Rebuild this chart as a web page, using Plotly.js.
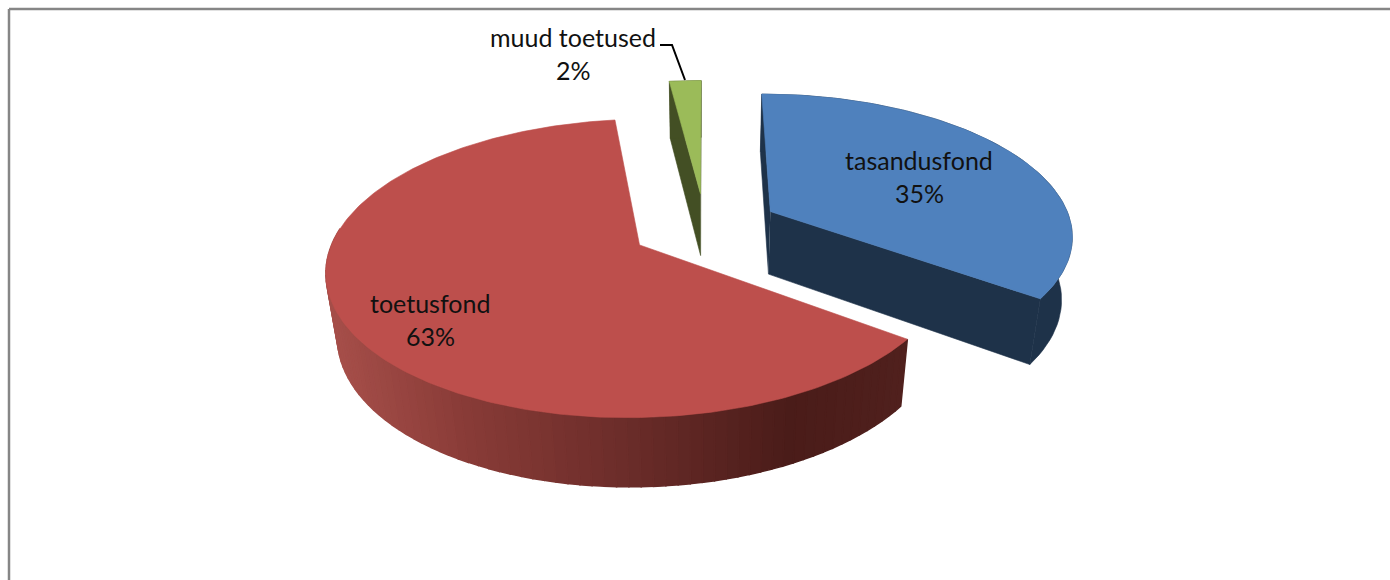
<!DOCTYPE html>
<html><head><meta charset="utf-8">
<script src="https://cdn.plot.ly/plotly-3.0.1.min.js"></script>
<style>html,body{margin:0;padding:0;background:#fff}</style></head>
<body><div id="chart" style="width:1390px;height:580px"></div>
<script>
const categories = ["tasandusfond", "toetusfond", "muud toetused"];
const values = [35, 63, 2];
const percentLabels = ["35%", "63%", "2%"];
const topColors = ["#4f81bd", "#bd4f4c", "#9bbb59"];
const wallColors = ["#1e3249", "#4d1d1b", "#434f24"];
const labelPos = [[919,160,193],[430,303,336],[573,37,70]];

// 3D pie camera
const startAngle = 0, explode = 0.247;
const cx = 705, cy = 227, A = 302, B = 140, k = 0.154, m = 0.03, depth = 65;
const rad = d => d*Math.PI/180;
const proj = (u,v,z) => { const w = 1+k*v+m*z; return [cx+A*u/w, cy-(B*v-depth*z)/w]; };

const traces = [];
function poly(pts, color, lw){
  traces.push({type:"scatter",mode:"lines",x:pts.map(p=>p[0]),y:pts.map(p=>p[1]),fill:"toself",
    fillcolor:color,line:{color:color,width:lw===undefined?0.6:lw},hoverinfo:"skip",showlegend:false});
}
function redShade(x){
  const stops=[[335,[165,78,73]],[470,[135,58,54]],[620,[108,45,42]],[790,[74,28,25]],[905,[80,32,29]]];
  for(let i=1;i<stops.length;i++){ if(x<=stops[i][0]){
    const t=Math.max(0,(x-stops[i-1][0])/(stops[i][0]-stops[i-1][0]));
    const c=stops[i-1][1].map((a,j)=>Math.round(a+(stops[i][1][j]-a)*t));
    return `rgb(${c.join(",")})`; } }
  return "rgb(80,32,29)";
}
const total = values.reduce((a,b)=>a+b,0);
let acc = startAngle; const slices=[];
values.forEach((val,i)=>{
  const a0=acc, a1=acc+val/total*360; acc=a1;
  const mid=(a0+a1)/2;
  slices.push({i,a0,a1,ox:explode*Math.sin(rad(mid)),oy:explode*Math.cos(rad(mid))});
});
const pt=(s,a,z)=>proj(s.ox+Math.sin(rad(a)),s.oy+Math.cos(rad(a)),z);
const apex=(s,z)=>proj(s.ox,s.oy,z);

// walls first, back slices first
[2,0,1].forEach(idx=>{
  const s=slices[idx];
  const n=Math.max(4,Math.round((s.a1-s.a0)/2));
  if(idx===1){
    for(let j=0;j<n;j++){
      const a=s.a0+(s.a1-s.a0)*j/n, b=s.a0+(s.a1-s.a0)*(j+1)/n;
      const pa=pt(s,a,0),pb=pt(s,b,0);
      if(pa[1]<230&&pb[1]<230) continue;
      poly([pa,pb,pt(s,b,1),pt(s,a,1),pa],redShade((pa[0]+pb[0])/2),1.5);
    }
  } else {
    const c=wallColors[idx];
    poly([apex(s,0),pt(s,s.a0,0),pt(s,s.a0,1),apex(s,1)],c);
    poly([apex(s,0),pt(s,s.a1,0),pt(s,s.a1,1),apex(s,1)],c);
    const top=[],bot=[];
    for(let j=0;j<=n;j++){const a=s.a0+(s.a1-s.a0)*j/n; top.push(pt(s,a,0)); bot.unshift(pt(s,a,1));}
    poly(top.concat(bot),c);
  }
});
// top faces
slices.forEach(s=>{
  const n=Math.max(4,Math.round((s.a1-s.a0)));
  const p=[apex(s,0)];
  for(let j=0;j<=n;j++) p.push(pt(s,s.a0+(s.a1-s.a0)*j/n,0));
  p.push(apex(s,0));
  poly(p,topColors[s.i]);
});
// leader line
traces.push({type:"scatter",mode:"lines",x:[660,672,685],y:[45,45,80],line:{color:"#000",width:2},hoverinfo:"skip",showlegend:false});

const annotations=[];
categories.forEach((c,i)=>{
  const [x,y1,y2]=labelPos[i];
  [[c,y1],[percentLabels[i],y2]].forEach(([t,y])=>annotations.push({x,y,xref:"x",yref:"y",text:t,showarrow:false,
    xanchor:"center",yanchor:"middle",font:{family:"Lato, 'Open Sans', sans-serif",size:25,color:"#111"}}));
});
const layout={width:1390,height:580,margin:{l:0,r:0,t:0,b:0},paper_bgcolor:"#fff",plot_bgcolor:"#fff",showlegend:false,
  xaxis:{range:[0,1390],visible:false,fixedrange:true},
  yaxis:{range:[580,0],visible:false,fixedrange:true},
  annotations,
  shapes:[
    {type:"line",xref:"x",yref:"y",x0:9,x1:1390,y0:9,y1:9,line:{color:"#868686",width:2.5}},
    {type:"line",xref:"x",yref:"y",x0:9,x1:9,y0:9,y1:580,line:{color:"#868686",width:2.5}}
  ]};
Plotly.newPlot("chart",traces,layout,{displayModeBar:false,staticPlot:true});
</script></body></html>
